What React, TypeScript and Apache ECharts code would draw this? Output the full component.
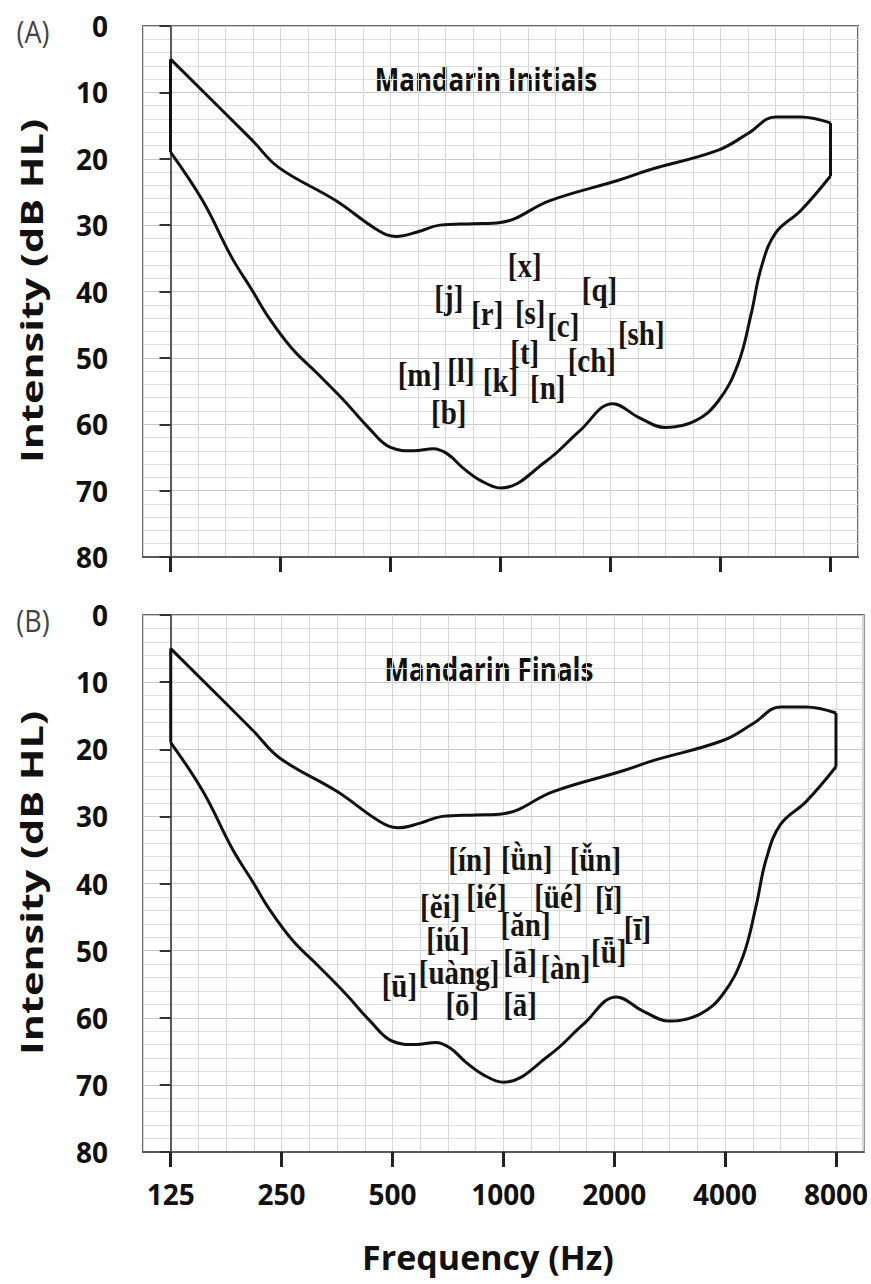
import React, { useEffect, useRef } from "react";
import * as echarts from "echarts";

// ---- data ----
const freqTickHz = [125, 250, 500, 1000, 2000, 4000, 8000];

// speech "banana" boundary (same in both panels)
const upperFreq = [125, 209, 247, 354, 463, 518, 595, 683, 841, 1000, 1366, 2114, 2549, 3945, 4757, 5657, 6636, 8000];
const upperDb = [5, 17.2, 21.3, 26.3, 30.8, 31.7, 31, 30, 29.8, 29.6, 26.3, 23.2, 21.7, 18.7, 16.2, 13.7, 13.7, 14.6];

const lowerFreq = [125, 153, 184, 209, 232, 268, 316, 374, 435, 500, 579, 655, 717, 790, 883, 1000, 1338, 1647, 2028, 2395, 2828, 3410, 3945, 4469, 4857, 5170, 5657, 6636, 8000];
const lowerDb = [19, 26.3, 34.9, 39.8, 43.9, 48.5, 52.4, 56.5, 60.5, 63.5, 64, 63.7, 64.5, 66.6, 68.5, 69.6, 65.5, 61, 56.9, 59, 60.5, 59.5, 56.5, 50.9, 43.3, 36.4, 31.2, 27.8, 22.6];

// Panel A: Mandarin initials
const initialsText = ["[x]", "[j]", "[r]", "[s]", "[q]", "[c]", "[sh]", "[t]", "[ch]", "[m]", "[l]", "[k]", "[n]", "[b]"];
const initialsFreq = [1165, 722, 920, 1206, 1866, 1485, 2428, 1165, 1778, 600, 779, 1000, 1347, 722];
const initialsDb = [36.1, 40.9, 43.3, 43.2, 39.8, 45.1, 46.3, 49.2, 50.4, 52.6, 51.9, 53.4, 54.5, 58.3];

// Panel B: Mandarin finals
const finalsText = ["[ín]", "[ǜn]", "[ǚn]", "[ĕi]", "[ié]", "[üé]", "[ĭ]", "[ăn]", "[ī]", "[iú]", "[ǖ]", "[ā]", "[àn]", "[uàng]", "[ū]", "[ō]", "[ā]"];
const finalsFreq = [812, 1157, 1778, 674, 900, 1410, 1932, 1149, 2313, 707, 1932, 1110, 1474, 758, 522, 774, 1110];
const finalsDb = [36.4, 36.3, 36.4, 43.4, 42, 42, 42.3, 46.2, 46.8, 48.4, 50.2, 51.7, 52.5, 53.3, 55.2, 58.1, 58.1];

const SANS = '"Open Sans", "Noto Sans", sans-serif';
const SERIF = '"Liberation Serif", "Times New Roman", serif';

const oct = (f: number) => Math.log2(f / 125);

export default function App() {
  const ref = useRef<HTMLDivElement>(null);

  useEffect(() => {
    document.body.style.margin = "0";
    if (!ref.current) return;
    const chart = echarts.init(ref.current, undefined, { renderer: "svg" });

    const tickOct = freqTickHz.map(oct);
    const grids = [
      { left: 143, top: 26, width: 715, height: 531 },
      { left: 143, top: 615, width: 723, height: 537 },
    ];

    const xAxes: any[] = [];
    const yAxes: any[] = [];
    const series: any[] = [];

    grids.forEach((_, p) => {
      xAxes.push({
        type: "value",
        gridIndex: p,
        position: "bottom",
        min: -0.25,
        max: 6.25,
        axisLine: { show: true, onZero: false, lineStyle: { color: "#5a5a5a", width: 2 } },
        axisTick: {
          show: true,
          customValues: tickOct,
          inside: false,
          length: 15,
          lineStyle: { color: "#222", width: 3 },
        },
        axisLabel: {
          show: p === 1,
          customValues: tickOct,
          margin: 28,
          formatter: (v: number) => String(Math.round(125 * Math.pow(2, v))),
          fontFamily: SANS,
          fontWeight: "bold",
          fontSize: 28,
          color: "#111",
        },
        splitLine: { show: false },
      });
      yAxes.push({
        type: "value",
        gridIndex: p,
        inverse: true,
        min: 0,
        max: 80,
        interval: 10,
        axisLine: { show: true, lineStyle: { color: "#5a5a5a", width: 2 } },
        axisTick: { show: true, length: 11, lineStyle: { color: "#333", width: 2 } },
        axisLabel: {
          margin: 35,
          fontFamily: SANS,
          fontWeight: "bold",
          fontSize: 28,
          color: "#111",
        },
        splitLine: { show: true, lineStyle: { color: "#c9c9c9", width: 1 } },
        minorTick: { show: false, splitNumber: 5 },
        minorSplitLine: { show: true, lineStyle: { color: "#dedede", width: 1 } },
      });
    });
    // hidden axes that only draw the quarter-octave grid
    grids.forEach((_, p) => {
      xAxes.push({
        type: "value",
        gridIndex: p,
        position: "top",
        min: -0.25,
        max: 6.25,
        interval: 0.25,
        axisLine: { show: false },
        axisTick: { show: false },
        axisLabel: { show: false },
        splitLine: { show: true, lineStyle: { color: "#d6d6d6", width: 1 } },
      });
    });

    const lineStyle = { color: "#111", width: 3 };
    const upper = upperFreq.map((f, i) => [oct(f), upperDb[i]]);
    const lower = lowerFreq.map((f, i) => [oct(f), lowerDb[i]]);
    const leftEdge = [
      [oct(upperFreq[0]), upperDb[0]],
      [oct(lowerFreq[0]), lowerDb[0]],
    ];
    const nu = upperFreq.length - 1;
    const nl = lowerFreq.length - 1;
    const rightEdge = [
      [oct(upperFreq[nu]), upperDb[nu]],
      [oct(lowerFreq[nl]), lowerDb[nl]],
    ];

    const panels = [
      { text: initialsText, freq: initialsFreq, db: initialsDb },
      { text: finalsText, freq: finalsFreq, db: finalsDb },
    ];

    panels.forEach((pn, p) => {
      const common = { type: "line", xAxisIndex: p, yAxisIndex: p, symbol: "none", silent: true, z: 5 };
      series.push({ ...common, data: upper, smooth: 0.4, lineStyle });
      series.push({ ...common, data: lower, smooth: 0.4, lineStyle });
      series.push({ ...common, data: leftEdge, lineStyle });
      series.push({ ...common, data: rightEdge, lineStyle });
      series.push({
        type: "custom",
        xAxisIndex: p,
        yAxisIndex: p,
        silent: true,
        z: 6,
        data: pn.text.map((t, i) => [oct(pn.freq[i]), pn.db[i]]),
        renderItem: (params: any, api: any) => {
          const pt = api.coord([api.value(0), api.value(1)]);
          return {
            type: "text",
            x: pt[0],
            y: pt[1],
            scaleY: 1.15,
            style: {
              text: pn.text[params.dataIndex],
              fill: "#151515",
              fontFamily: SERIF,
              fontWeight: "bold",
              fontSize: 29,
              align: "center",
              verticalAlign: "middle",
            },
          };
        },
      });
    });

    const titleStyle = (text: string, size: number) => ({
      text,
      fill: "#111",
      fontFamily: SANS,
      fontWeight: "bold",
      fontSize: size,
      align: "center",
      verticalAlign: "middle",
    });

    const graphic: any[] = [
      { type: "text", x: 33, y: 31, scaleY: 1.12, style: { ...titleStyle("(A)", 27), fontWeight: "normal", fill: "#444" } },
      { type: "text", x: 33, y: 620, scaleY: 1.12, style: { ...titleStyle("(B)", 27), fontWeight: "normal", fill: "#444" } },
      { type: "text", x: 486, y: 78, scaleY: 1.22, style: titleStyle("Mandarin Initials", 26) },
      { type: "text", x: 489, y: 668, scaleY: 1.22, style: titleStyle("Mandarin Finals", 26) },
      { type: "text", x: 31, y: 291, rotation: Math.PI / 2, scaleX: 1.38, style: titleStyle("Intensity (dB HL)", 30) },
      { type: "text", x: 31, y: 883, rotation: Math.PI / 2, scaleX: 1.38, style: titleStyle("Intensity (dB HL)", 30) },
      { type: "text", x: 488, y: 1257, style: titleStyle("Frequency (Hz)", 34) },
    ];

    chart.setOption({
      animation: false,
      backgroundColor: "#fff",
      grid: grids.map((g) => ({
        ...g,
        show: true,
        backgroundColor: "#fff",
        borderColor: "#6a6a6a",
        borderWidth: 2,
      })),
      xAxis: xAxes,
      yAxis: yAxes,
      series,
      graphic,
    });

    return () => chart.dispose();
  }, []);

  return <div ref={ref} style={{ width: 871, height: 1284 }} />;
}
